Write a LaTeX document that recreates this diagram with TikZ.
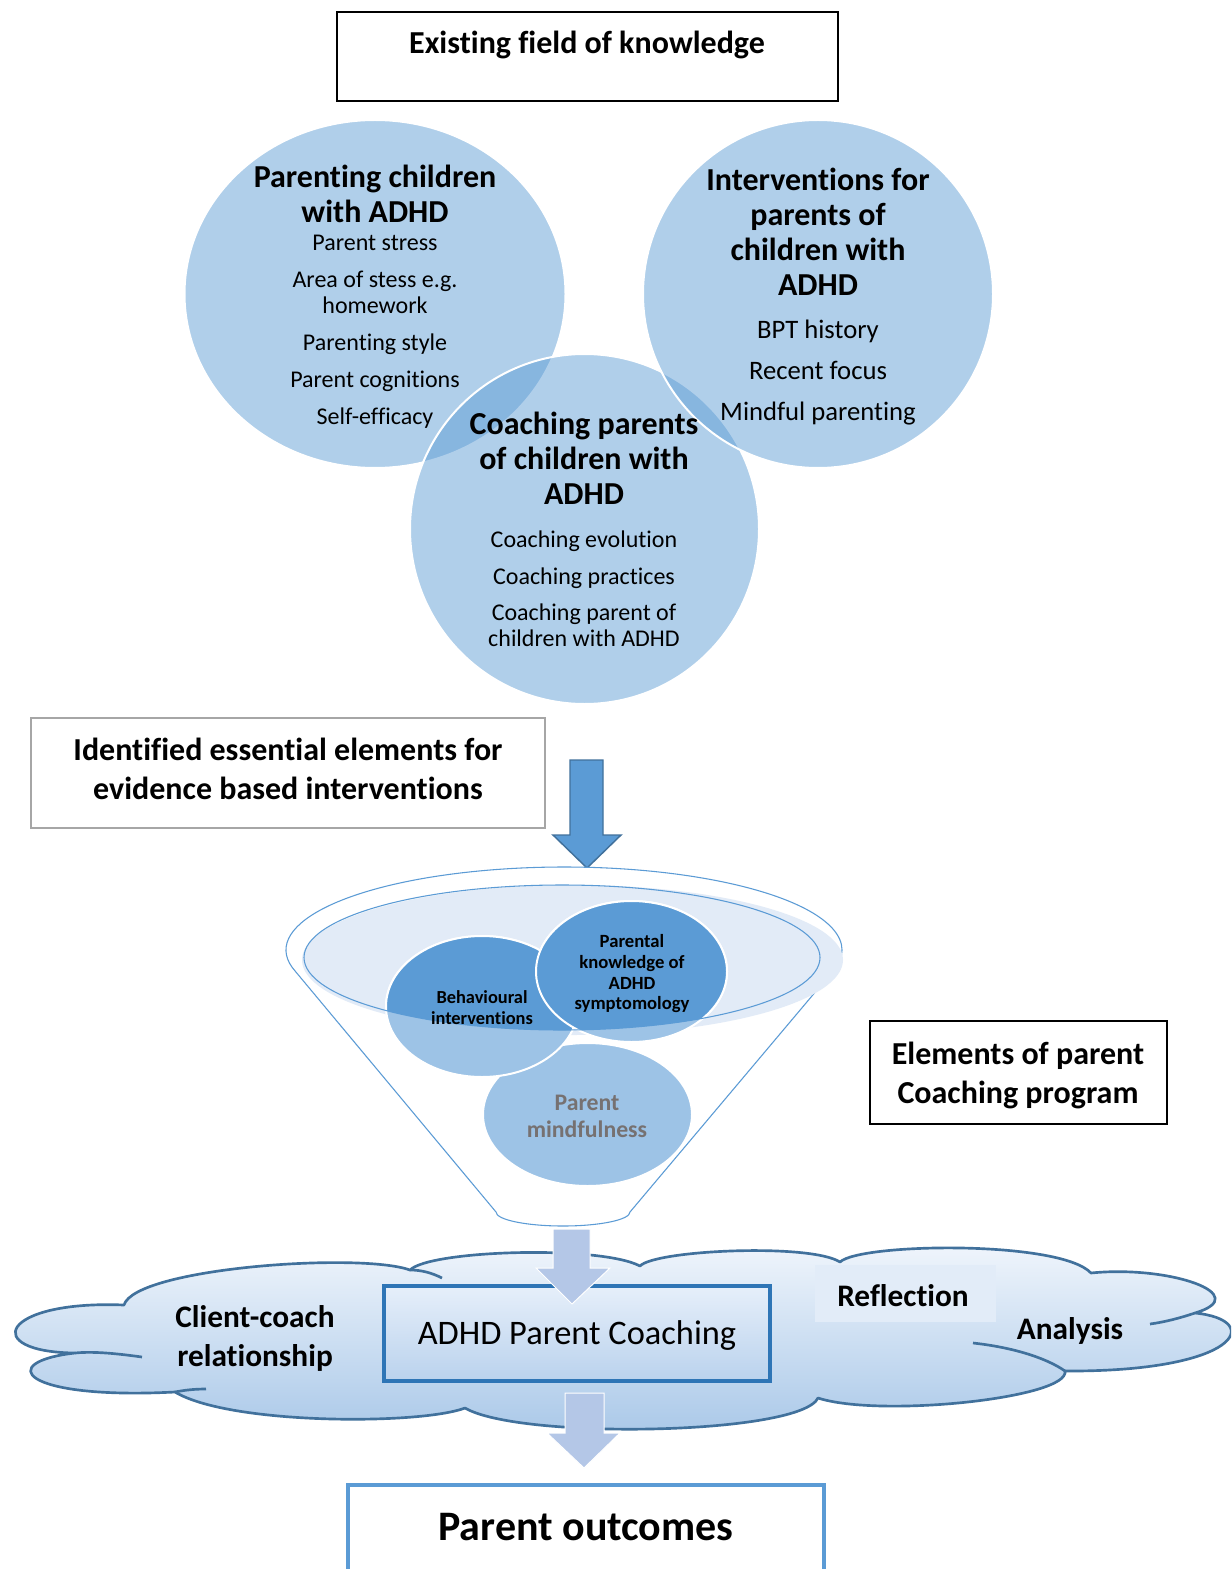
\documentclass[tikz,border=0pt]{standalone}
\usepackage{fontspec}
\setmainfont{Carlito}[Ligatures=NoCommon]
\definecolor{offblue}{RGB}{91,155,213}
\definecolor{darkedge}{RGB}{65,113,156}
\definecolor{lightarrow}{RGB}{180,199,231}
\definecolor{boxedge}{RGB}{46,117,182}
\definecolor{funnellight}{RGB}{157,195,230}
\definecolor{ellfill}{RGB}{226,235,247}
\definecolor{mindgray}{RGB}{118,113,113}
\definecolor{cloudtop}{RGB}{241,246,252}
\definecolor{cloudbot}{RGB}{168,199,232}
\definecolor{framegray}{RGB}{166,166,166}
\definecolor{reflbg}{RGB}{226,236,248}
\definecolor{boxtop}{RGB}{230,239,250}
\definecolor{boxbot}{RGB}{186,210,237}
\begin{document}
\begin{tikzpicture}[x=0.75pt,y=-0.75pt,
  venn/.style={fill=offblue, fill opacity=0.48, draw=white, line width=1.5pt},
  fcirc/.style={draw=white, line width=1.5pt},
  hbold/.style={inner sep=0pt, align=center, font=\fontsize{24}{26.25}\selectfont\bfseries},
  reg/.style={inner sep=0pt, align=center, font=\fontsize{18}{19.5}\selectfont},
  regbig/.style={inner sep=0pt, align=center, font=\fontsize{20}{21}\selectfont},
  boxbold/.style={inner sep=0pt, align=center, font=\fontsize{24}{29.25}\selectfont\bfseries},
  cloudbold/.style={inner sep=0pt, align=center, font=\fontsize{23.5}{29.25}\selectfont\bfseries},
  cloudline/.style={draw=darkedge, line width=2pt},
  lightarr/.style={fill=lightarrow, draw=white, line width=0.75pt}]
\clip (0,0) rectangle (1231,1569);
\fill[white] (0,0) rectangle (1231,1569);

% ---------- top title box
\draw[black, line width=0.8pt] (337,12) rectangle (838,101);
\node[hbold] (title) at (587,45) {Existing field of knowledge};

% ---------- Venn circles
\path[venn] (375,294) ellipse [x radius=190.5, y radius=174];
\path[venn] (584.5,529) ellipse [x radius=174.5, y radius=175];
\path[venn] (818,294) ellipse [x radius=175, y radius=174];

\node[hbold] (lefthead) at (375,193.5) {Parenting children\\with ADHD};
\node[reg] (lefttext) at (375,331.5) {Parent stress\\[8.25pt]Area of stess e.g.\\homework\\[8.25pt]Parenting style\\[8.25pt]Parent cognitions\\[8.25pt]Self-efficacy};
\node[hbold] (righthead) at (818,231.5) {Interventions for\\parents of\\children with\\ADHD};
\node[regbig] (righttext) at (818,373) {BPT history\\[9.75pt]Recent focus\\[9.75pt]Mindful parenting};
\node[hbold] (bothead) at (584,458.5) {Coaching parents\\of children with\\ADHD};
\node[reg] (bottext) at (584,588.5) {Coaching evolution\\[8.25pt]Coaching practices\\[7.5pt]Coaching parent of\\children with ADHD};

% ---------- identified box
\draw[framegray, line width=0.8pt] (31,718) rectangle (545,828);
\node[boxbold] (ident) at (288,768.5) {Identified essential elements for\\evidence based interventions};

% ---------- big arrow
\filldraw[fill=offblue, draw=darkedge, line width=1.1pt]
  (570,760) -- (603,760) -- (603,835) -- (621,835) -- (587,868) -- (553,835) -- (570,835) -- cycle;

% ---------- funnel
\filldraw[fill=white, draw=offblue, line width=0.8pt]
  (295.5,971.5) arc[start angle=165, end angle=375, x radius=278, y radius=83]
  -- (630,1212) arc[start angle=0, end angle=180, x radius=67, y radius=14] -- cycle;
\fill[ellfill] (572.5,960) ellipse [x radius=270.5, y radius=75];

\path[fcirc, fill=funnellight] (587.5,1114.5) ellipse [x radius=104.5, y radius=71.5];
\path[fcirc, fill=funnellight] (482,1006.5) ellipse [x radius=96, y radius=70.5];
\path[fcirc, fill=funnellight] (631.5,971.5) ellipse [x radius=95.5, y radius=70.5];
\begin{scope}
  \clip (562,957.5) ellipse [x radius=258, y radius=72.5];
  \path[fcirc, fill=offblue] (482,1006.5) ellipse [x radius=96, y radius=70.5];
  \path[fcirc, fill=offblue] (631.5,971.5) ellipse [x radius=95.5, y radius=70.5];
\end{scope}
\draw[offblue, line width=0.8pt] (562,957.5) ellipse [x radius=258, y radius=72.5];

\node[inner sep=0pt, align=center, font=\fontsize{13.8}{15.75}\selectfont\bfseries] (behav) at (482,1007.5) {Behavioural\\interventions};
\node[inner sep=0pt, align=center, font=\fontsize{14}{15.5}\selectfont\bfseries] (knowl) at (632,974) {Parental\\knowledge of\\ADHD\\symptomology};
\node[inner sep=0pt, align=center, text=mindgray, font=\fontsize{17.8}{20.25}\selectfont\bfseries] (mind) at (587,1116.5) {Parent\\mindfulness};

% ---------- elements box
\draw[black, line width=0.8pt] (870,1021) rectangle (1167,1124);
\node[boxbold] (elements) at (1018,1075.5) {Elements of parent\\Coaching program};

% ---------- cloud
\shade[top color=cloudtop, bottom color=cloudbot]
  (124,1305) .. controls (135,1268) and (360,1252) .. (410,1270)
  .. controls (430,1250) and (600,1245) .. (640,1266)
  .. controls (655,1250) and (810,1243) .. (840,1262)
  .. controls (860,1243) and (1060,1240) .. (1091,1273)
  .. controls (1170,1265) and (1255,1295) .. (1195,1313)
  .. controls (1265,1320) and (1240,1372) .. (1065,1371)
  .. controls (1070,1398) and (880,1418) .. (818,1398)
  .. controls (800,1435) and (520,1440) .. (465,1408)
  .. controls (420,1425) and (230,1425) .. (175,1392)
  .. controls (20,1400) and (-5,1362) .. (75,1353)
  .. controls (-20,1352) and (0,1300) .. (124,1305) -- cycle;
\draw[cloudline, line join=round]
  (124,1305) .. controls (135,1268) and (360,1252) .. (410,1270)
  .. controls (430,1250) and (600,1245) .. (640,1266)
  .. controls (655,1250) and (810,1243) .. (840,1262)
  .. controls (860,1243) and (1060,1240) .. (1091,1273)
  .. controls (1170,1265) and (1255,1295) .. (1195,1313)
  .. controls (1265,1320) and (1240,1372) .. (1065,1371)
  .. controls (1070,1398) and (880,1418) .. (818,1398)
  .. controls (800,1435) and (520,1440) .. (465,1408)
  .. controls (420,1425) and (230,1425) .. (175,1392)
  .. controls (20,1400) and (-5,1362) .. (75,1353)
  .. controls (-20,1352) and (0,1300) .. (124,1305) -- cycle;
\draw[cloudline] (410,1270) .. controls (422,1270) and (432,1273) .. (442,1278);
\draw[cloudline] (1195,1313) .. controls (1180,1318) and (1165,1322) .. (1150,1324);
\draw[cloudline] (973,1343) .. controls (1010,1347) and (1045,1357) .. (1065,1371);
\draw[cloudline] (75,1353) .. controls (95,1351) and (120,1354) .. (142,1357);
\draw[cloudline] (175,1392) .. controls (185,1390) and (195,1389) .. (206,1389);

\fill[reflbg] (815,1265) rectangle (996,1322);
\node[cloudbold] (client) at (255,1338.5) {Client-coach\\relationship};
\node[cloudbold] (refl) at (903,1296) {Reflection};
\node[cloudbold] (anal) at (1070,1331) {Analysis};

% ---------- coaching box
\shade[top color=boxtop, bottom color=boxbot] (384,1286) rectangle (770,1381);
\draw[boxedge, line width=3pt] (384,1286) rectangle (770,1381);
\node[inner sep=0pt, font=\fontsize{25.8}{28}\selectfont] (coach) at (577,1335) {ADHD Parent Coaching};

% ---------- light arrows
\filldraw[lightarr] (553,1229) -- (590,1229) -- (590,1268) -- (610,1268) -- (572,1304) -- (536,1268) -- (553,1268) -- cycle;
\filldraw[lightarr] (565,1393) -- (604,1393) -- (604,1433) -- (620,1433) -- (584,1468) -- (547,1433) -- (565,1433) -- cycle;

% ---------- outcomes box
\filldraw[fill=white, draw=offblue, line width=2.6pt] (348,1485) rectangle (824,1600);
\node[inner sep=0pt, font=\fontsize{31.5}{34}\selectfont\bfseries] (outcomes) at (586,1527) {Parent outcomes};
\end{tikzpicture}
\end{document}
